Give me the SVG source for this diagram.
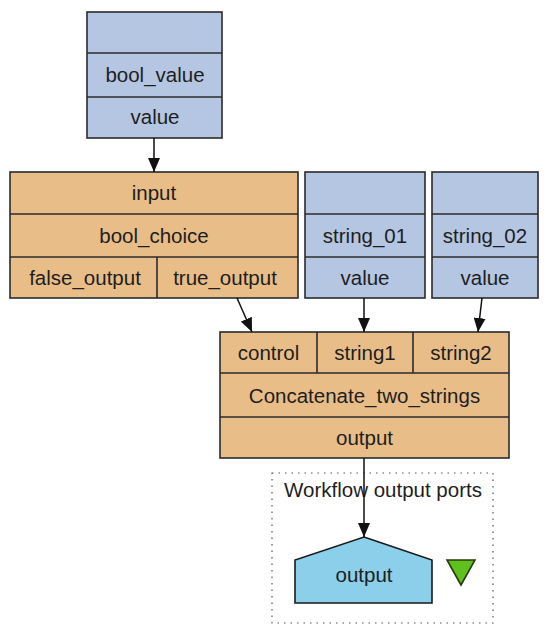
<svg xmlns="http://www.w3.org/2000/svg" width="545" height="628" viewBox="0 0 545 628">
  <defs>
    <style>
      .blue { fill: #b4c6e2; stroke: #2b2b2b; stroke-width: 1.6; }
      .tan { fill: #e8bd88; stroke: #2b2b2b; stroke-width: 1.6; }
      .sep { stroke: #2b2b2b; stroke-width: 1.6; }
      .lbl { font-family: "Liberation Sans", Arial, sans-serif; font-size: 20.5px; fill: #1e1e1e; text-anchor: middle; }
      .edge { stroke: #111; stroke-width: 1.5; fill: none; marker-end: url(#arrow); }
    </style>
    <marker id="arrow" viewBox="0 0 14 12" refX="14" refY="6" markerWidth="14" markerHeight="12" markerUnits="userSpaceOnUse" orient="auto">
      <path d="M0,0 L14,6 L0,12 z" fill="#111"/>
    </marker>
  </defs>
  <rect width="545" height="628" fill="#ffffff"/>

  <!-- output ports cluster -->
  <g id="cluster_outputs">
    <rect x="272" y="473" width="221" height="150" fill="none" stroke="#555" stroke-width="1.2" stroke-dasharray="1.5,5"/>
    <text class="lbl" x="383" y="497">Workflow output ports</text>
  </g>

  <g id="bool_value">
    <rect class="blue" x="87" y="12" width="135" height="126"/>
    <line class="sep" x1="87" y1="53" x2="222" y2="53"/>
    <line class="sep" x1="87" y1="97" x2="222" y2="97"/>
    <text class="lbl" x="155" y="82">bool_value</text>
    <text class="lbl" x="155" y="124">value</text>
  </g>

  <g id="bool_choice">
    <rect class="tan" x="10" y="172" width="288" height="126"/>
    <line class="sep" x1="10" y1="214" x2="298" y2="214"/>
    <line class="sep" x1="10" y1="257" x2="298" y2="257"/>
    <line class="sep" x1="157" y1="257" x2="157" y2="298"/>
    <text class="lbl" x="154" y="200">input</text>
    <text class="lbl" x="154" y="243">bool_choice</text>
    <text class="lbl" x="85" y="285">false_output</text>
    <text class="lbl" x="225" y="285">true_output</text>
  </g>

  <g id="string_01">
    <rect class="blue" x="305" y="172" width="120" height="126"/>
    <line class="sep" x1="305" y1="214" x2="425" y2="214"/>
    <line class="sep" x1="305" y1="257" x2="425" y2="257"/>
    <text class="lbl" x="365" y="243">string_01</text>
    <text class="lbl" x="365" y="285">value</text>
  </g>

  <g id="string_02">
    <rect class="blue" x="432" y="172" width="106" height="126"/>
    <line class="sep" x1="432" y1="214" x2="538" y2="214"/>
    <line class="sep" x1="432" y1="257" x2="538" y2="257"/>
    <text class="lbl" x="485" y="243">string_02</text>
    <text class="lbl" x="485" y="285">value</text>
  </g>

  <g id="Concatenate_two_strings">
    <rect class="tan" x="220" y="332" width="289" height="126"/>
    <line class="sep" x1="220" y1="373" x2="509" y2="373"/>
    <line class="sep" x1="220" y1="417" x2="509" y2="417"/>
    <line class="sep" x1="317" y1="332" x2="317" y2="373"/>
    <line class="sep" x1="413" y1="332" x2="413" y2="373"/>
    <text class="lbl" x="268.5" y="360">control</text>
    <text class="lbl" x="365" y="360">string1</text>
    <text class="lbl" x="461" y="360">string2</text>
    <text class="lbl" x="364.5" y="403">Concatenate_two_strings</text>
    <text class="lbl" x="364.5" y="445">output</text>
  </g>

  <g id="workflow_output">
    <path d="M364,537 L432,560 L432,603 L295,603 L295,560 Z" fill="#8ccfea" stroke="#1a1a1a" stroke-width="1.6"/>
    <text class="lbl" x="364" y="582">output</text>
  </g>

  <g id="output_marker">
    <path d="M447,560 L475,560 L461,585 Z" fill="#5fc21c" stroke="#2a3a10" stroke-width="1.6"/>
  </g>

  <g id="connectors">
    <path class="edge" d="M154,138 L154,172"/>
    <path class="edge" d="M237,298 L252,332"/>
    <path class="edge" d="M364,298 L364,332"/>
    <path class="edge" d="M482,298 L478,332"/>
    <path class="edge" d="M364,458 L364,537"/>
  </g>
</svg>
